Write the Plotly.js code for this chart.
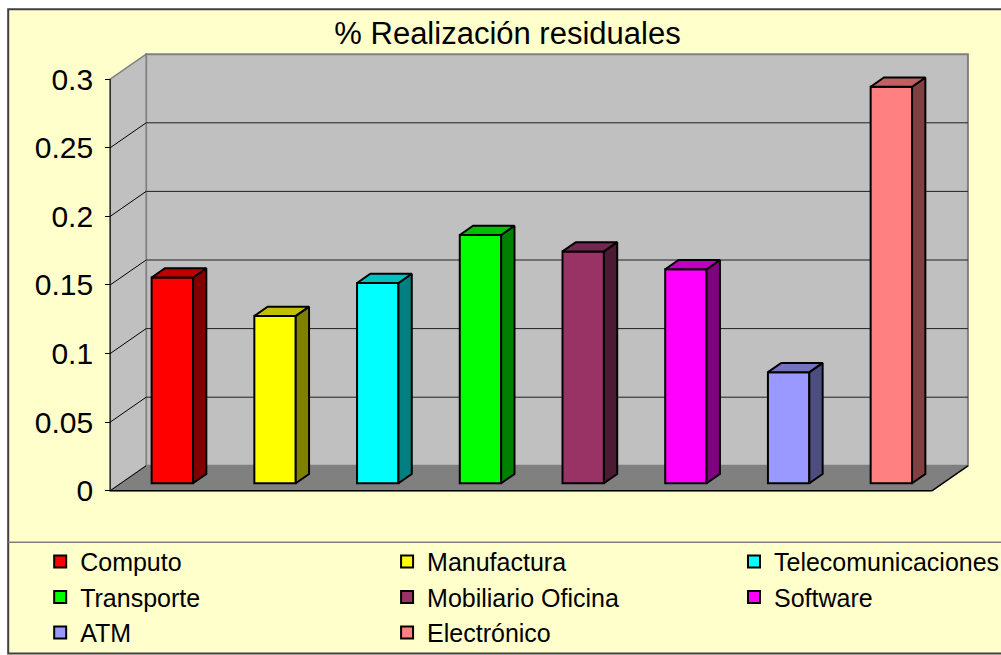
<!DOCTYPE html>
<html><head><meta charset="utf-8">
<script src="https://cdn.plot.ly/plotly-3.0.1.min.js"></script>
<style>html,body{margin:0;padding:0;background:#fff}#chart{width:1001px;height:655px}</style>
</head><body><div id="chart"></div>
<script>
// ---- data ----
const categories = ["Computo", "Manufactura", "Telecomunicaciones", "Transporte", "Mobiliario Oficina", "Software", "ATM", "Electrónico"];
const values = [0.150, 0.122, 0.146, 0.181, 0.169, 0.156, 0.081, 0.289];
const frontColors = ["#FF0000", "#FFFF00", "#00FFFF", "#00FF00", "#993366", "#FF00FF", "#9999FF", "#FF8080"];
const sideColors = ["#800000", "#808000", "#008080", "#008000", "#4D1A33", "#800080", "#4D4D80", "#804040"];
const topColors = ["#C00000", "#C0C000", "#00C0C0", "#00C000", "#732650", "#C000C0", "#7373C0", "#C06060"];
const legendIds = ["legend", "legend2", "legend3", "legend", "legend2", "legend3", "legend", "legend2"];
const tickVals = [0, 0.05, 0.1, 0.15, 0.2, 0.25, 0.3];
const tickText = ["0", "0.05", "0.1", "0.15", "0.2", "0.25", "0.3"];
const titleText = "% Realización residuales";

// ---- geometry (styling) ----
const W = 1001, H = 655;
const PX = 102.75, PY = 1373.3;     // px per axis unit
const X0 = 110, Y0 = 491;           // pixel of (0,0) on the front plane
const DX = 36 / PX, DY = 25 / PY;   // depth vector in axis units
const xR = [-0.06, 8.40], yR = [-0.006, 0.322];
const mL = X0 + xR[0] * PX, mW = (xR[1] - xR[0]) * PX, mR = W - mL - mW;
const mT = Y0 - yR[1] * PY, mB = H - (Y0 - yR[0] * PY), mH = H - mT - mB;
const pxX = p => (p - mL) / mW;
const pxY = p => (H - mB - p) / mH;
const F1 = 0.30, F2 = 0.67, BW = 0.403;
const nCat = categories.length;
const yMax = tickVals[tickVals.length - 1];
const FONT = "Liberation Sans, Arial, sans-serif";

const traces = [];
const faces = [];
categories.forEach((c, i) => {
  const v = values[i];
  const xc = i + 0.5 + F1 * DX, base = F1 * DY;
  const xl = xc - BW / 2, xr = xc + BW / 2;
  const ddx = (F2 - F1) * DX, ddy = (F2 - F1) * DY;
  const top = base + v;
  traces.push({
    type: "bar", name: c, x: [xc], y: [v], base: [base], width: [BW],
    marker: {color: frontColors[i], line: {color: "#000", width: 2}},
    legend: legendIds[i], hoverinfo: "name+y"
  });
  faces.push({
    type: "scatter", mode: "lines", showlegend: false, hoverinfo: "skip",
    x: [xr, xr + ddx, xr + ddx, xr, xr], y: [base, base + ddy, top + ddy, top, base],
    fill: "toself", fillcolor: sideColors[i], line: {color: "#000", width: 2}
  });
  faces.push({
    type: "scatter", mode: "lines", showlegend: false, hoverinfo: "skip",
    x: [xl, xr, xr + ddx, xl + ddx, xl], y: [top, top, top + ddy, top + ddy, top],
    fill: "toself", fillcolor: topColors[i], line: {color: "#000", width: 2}
  });
});

const shapes = [];
// chart area background & border
shapes.push({type: "rect", xref: "paper", yref: "paper", layer: "below",
  x0: pxX(8), x1: pxX(1015), y0: pxY(654), y1: pxY(9),
  fillcolor: "#FFFFCC", line: {color: "#404040", width: 2}});
// legend separator
shapes.push({type: "line", xref: "paper", yref: "paper", layer: "below",
  x0: pxX(8), x1: pxX(1015), y0: pxY(542.5), y1: pxY(542.5),
  line: {color: "#808080", width: 1.5}});
// back wall
shapes.push({type: "rect", xref: "x", yref: "y", layer: "below",
  x0: DX, x1: nCat + DX, y0: DY, y1: yMax + DY,
  fillcolor: "#C0C0C0", line: {color: "#808080", width: 2}});
// left wall
shapes.push({type: "path", xref: "x", yref: "y", layer: "below",
  path: `M0,0 L0,${yMax} L${DX},${yMax + DY} L${DX},${DY} Z`,
  fillcolor: "#C0C0C0", line: {color: "#808080", width: 1.5}});
// floor
shapes.push({type: "path", xref: "x", yref: "y", layer: "below",
  path: `M0,0 L${nCat},0 L${nCat + DX},${DY} L${DX},${DY} Z`,
  fillcolor: "#808080", line: {color: "#808080", width: 1}});
// gridlines (back wall + left wall)
tickVals.forEach(v => {
  if (v > 0 && v < yMax) {
    shapes.push({type: "line", xref: "x", yref: "y", layer: "below",
      x0: DX, x1: nCat + DX, y0: v + DY, y1: v + DY, line: {color: "#202020", width: 1}});
  }
  if (v < yMax) {
    shapes.push({type: "line", xref: "x", yref: "y", layer: "below",
      x0: 0, x1: DX, y0: v, y1: v + DY, line: {color: "#000", width: 1}});
  }
});
// front edges
shapes.push({type: "line", xref: "x", yref: "y", layer: "below",
  x0: 0, x1: 0, y0: 0, y1: yMax, line: {color: "#000", width: 1}});
shapes.push({type: "line", xref: "x", yref: "y", layer: "below",
  x0: 0, x1: nCat, y0: 0, y1: 0, line: {color: "#000", width: 1.5}});
shapes.push({type: "line", xref: "x", yref: "y", layer: "below",
  x0: nCat, x1: nCat + DX, y0: 0, y1: DY, line: {color: "#000", width: 1.5}});

const legBase = {
  orientation: "v", xanchor: "left", yanchor: "top", y: pxY(539),
  bgcolor: "rgba(0,0,0,0)", borderwidth: 0,
  font: {family: FONT, size: 25, color: "#000"}
};

const layout = {
  width: W, height: H,
  margin: {l: mL, r: mR, t: mT, b: mB, pad: 0, autoexpand: false},
  paper_bgcolor: "#FFFFFF", plot_bgcolor: "rgba(0,0,0,0)",
  barmode: "overlay",
  title: {text: titleText, x: 507.5 / W, xref: "container", xanchor: "center",
          y: 1 - 33 / H, yref: "container", yanchor: "middle",
          font: {family: FONT, size: 31, color: "#000"}},
  xaxis: {range: xR, showgrid: false, zeroline: false, showticklabels: false, ticks: "", showline: false, fixedrange: true},
  yaxis: {range: yR, anchor: "free", position: (0 - xR[0]) / (xR[1] - xR[0]),
          showgrid: false, zeroline: false, showline: false,
          tickvals: tickVals, ticktext: tickText, ticks: "outside", ticklen: 5, tickwidth: 1, tickcolor: "#000",
          ticklabelstandoff: 6,
          tickfont: {family: FONT, size: 30, color: "#000"}, fixedrange: true},
  shapes: shapes,
  legend: Object.assign({}, legBase, {x: pxX(40)}),
  legend2: Object.assign({}, legBase, {x: pxX(387)}),
  legend3: Object.assign({}, legBase, {x: pxX(734)}),
  showlegend: true
};

Plotly.newPlot("chart", traces.concat(faces), layout, {displayModeBar: false, staticPlot: true});
</script>
</body></html>
